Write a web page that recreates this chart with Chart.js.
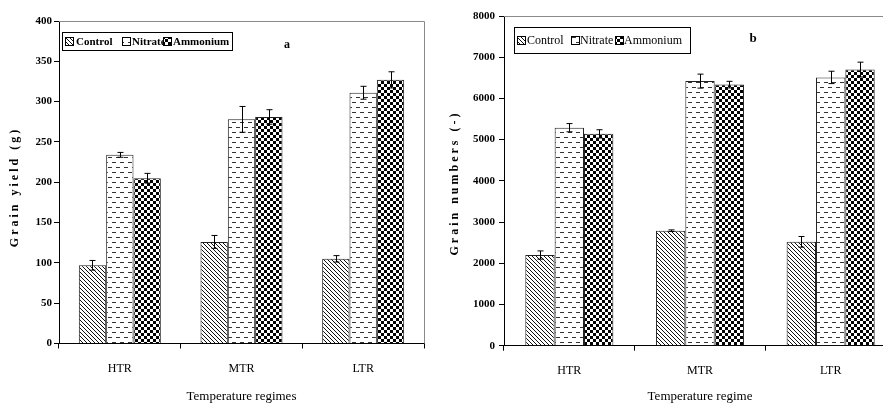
<!DOCTYPE html>
<html><head><meta charset="utf-8">
<script src="https://cdn.jsdelivr.net/npm/chart.js@4"></script>
<style>
html,body{margin:0;padding:0;background:#fff;overflow:hidden}
#wrap{position:relative;width:883px;height:403px;overflow:hidden;background:#fff}
#ca{position:absolute;left:0;top:0}
#cb{position:absolute;left:440px;top:0}
</style></head><body>
<div id="wrap">
<canvas id="ca" width="440" height="403"></canvas>
<canvas id="cb" width="470" height="403"></canvas>
</div>
<script>
// ---- data ----
const categories = ['HTR', 'MTR', 'LTR'];
const seriesNames = ['Control', 'Nitrate', 'Ammonium'];

const yieldControl = [97, 126, 105];
const yieldNitrate = [234, 278, 311];
const yieldAmmonium = [205, 281, 327];
const yieldControlErr = [6, 8, 4];
const yieldNitrateErr = [3, 16, 8];
const yieldAmmoniumErr = [6, 9, 10];
const yieldTickMax = 400, yieldTickStep = 50;

const numControl = [2200, 2790, 2520];
const numNitrate = [5290, 6420, 6510];
const numAmmonium = [5140, 6335, 6700];
const numControlErr = [100, 20, 130];
const numNitrateErr = [100, 170, 150];
const numAmmoniumErr = [100, 80, 180];
const numTickMax = 8000, numTickStep = 1000;

const FONT = "'Liberation Serif', 'Times New Roman', serif";

function makePattern(ctx, type) {
  const c = document.createElement('canvas');
  const x = c.getContext('2d');
  if (type === 'diag') {
    c.width = 4; c.height = 4;
    x.fillStyle = '#fff'; x.fillRect(0, 0, 4, 4);
    x.fillStyle = '#111';
    for (let i = 0; i < 4; i++) x.fillRect(i, i, 1, 1);
  } else if (type === 'dash') {
    c.width = 8; c.height = 10;
    x.fillStyle = '#fff'; x.fillRect(0, 0, 8, 10);
    x.fillStyle = '#333';
    x.fillRect(0, 2, 4, 1);
    x.fillRect(4, 7, 4, 1);
  } else {
    c.width = 6; c.height = 6;
    x.fillStyle = '#fff'; x.fillRect(0, 0, 6, 6);
    x.fillStyle = '#000';
    x.fillRect(0, 0, 3, 3); x.fillRect(3, 3, 3, 3);
  }
  return ctx.createPattern(c, 'repeat');
}

const errorBars = {
  id: 'errorBars',
  afterDatasetsDraw(chart) {
    const ctx = chart.ctx, ys = chart.scales.y;
    ctx.save();
    ctx.strokeStyle = '#000'; ctx.lineWidth = 1;
    chart.data.datasets.forEach((ds, di) => {
      const meta = chart.getDatasetMeta(di);
      meta.data.forEach((bar, i) => {
        const v = ds.data[i], e = ds.errors[i];
        const x = Math.round(bar.x) + 0.5;
        const y1 = ys.getPixelForValue(v + e), y2 = ys.getPixelForValue(v - e);
        ctx.beginPath();
        ctx.moveTo(x, y1); ctx.lineTo(x, y2);
        ctx.moveTo(x - 3, y1); ctx.lineTo(x + 3, y1);
        ctx.moveTo(x - 3, y2); ctx.lineTo(x + 3, y2);
        ctx.stroke();
      });
    });
    ctx.restore();
  }
};

const panel = {
  id: 'panel',
  afterDraw(chart, args, o) {
    const ctx = chart.ctx, a = chart.chartArea;
    ctx.save();
    ctx.strokeStyle = '#8a8a8a'; ctx.lineWidth = 1;
    ctx.beginPath();
    ctx.moveTo(a.left, Math.round(a.top) + 0.5);
    ctx.lineTo(Math.round(a.right) + 0.5, Math.round(a.top) + 0.5);
    ctx.lineTo(Math.round(a.right) + 0.5, a.bottom);
    ctx.stroke();
    const L = o.legend;
    ctx.strokeStyle = '#000';
    ctx.strokeRect(L.x + 0.5, L.y + 0.5, L.w, L.h);
    ctx.font = L.font;
    ctx.textBaseline = 'middle';
    ctx.fillStyle = '#000';
    chart.data.datasets.forEach((ds, i) => {
      const sx = L.swatch[i];
      const sy = L.y + Math.round(L.h / 2) - 4;
      ctx.fillStyle = ds.backgroundColor;
      ctx.fillRect(sx, sy, 8, 8);
      ctx.strokeStyle = '#000';
      ctx.strokeRect(sx + 0.5, sy + 0.5, 8, 8);
      ctx.fillStyle = '#000';
      ctx.fillText(ds.label, L.text[i], L.y + L.h / 2 + 1);
    });
    ctx.font = o.letterFont;
    ctx.textAlign = 'center';
    ctx.fillText(o.letter, o.letterX, o.letterY);
    ctx.translate(o.yTitleX, o.yTitleY);
    ctx.rotate(-Math.PI / 2);
    ctx.font = "bold 12px " + FONT;
    ctx.letterSpacing = '3px';
    ctx.textAlign = 'center';
    ctx.fillText(o.yTitle, 0, 0);
    ctx.restore();
  }
};

function build(canvasId, vals, errs, cfg) {
  const canvas = document.getElementById(canvasId);
  const ctx = canvas.getContext('2d');
  const pats = [makePattern(ctx, 'diag'), makePattern(ctx, 'dash'), makePattern(ctx, 'check')];
  return new Chart(canvas, {
    type: 'bar',
    data: {
      labels: categories,
      datasets: vals.map((v, i) => ({
        label: seriesNames[i],
        data: v,
        errors: errs[i],
        backgroundColor: pats[i],
        borderColor: '#222',
        borderWidth: 1,
        categoryPercentage: 0.674,
        barPercentage: 1
      }))
    },
    options: {
      responsive: false,
      animation: false,
      devicePixelRatio: 1,
      layout: { padding: { left: 0, right: cfg.padRight, top: cfg.padTop, bottom: 0 } },
      plugins: {
        legend: { display: false },
        tooltip: { enabled: false },
        panel: cfg.panel
      },
      scales: {
        x: {
          grid: { display: true, drawOnChartArea: false, drawTicks: true, tickLength: 5, color: '#000', offset: true },
          border: { display: true, color: '#000', width: 1 },
          ticks: { color: '#000', font: { family: FONT, size: 12 }, padding: 13 },
          title: { display: true, text: cfg.xTitle, color: '#000', font: { family: FONT, size: 13, lineHeight: 1 }, padding: 0 },
          afterFit(s) { s.height = cfg.xHeight; s.paddingLeft = 0; s.paddingRight = 0; }
        },
        y: {
          min: 0, max: cfg.max,
          ticks: { stepSize: cfg.step, color: '#000', font: { family: FONT, size: 11, weight: 'bold' }, padding: cfg.tickPad,
                   callback: (v) => String(v) },
          grid: { display: true, drawOnChartArea: false, drawTicks: true, tickLength: 5, color: '#000' },
          border: { display: true, color: '#000', width: 1 },
          afterFit(s) { s.width = cfg.yWidth; s.paddingTop = 0; s.paddingBottom = 0; }
        }
      }
    },
    plugins: [errorBars, panel]
  });
}

build('ca',
  [yieldControl, yieldNitrate, yieldAmmonium],
  [yieldControlErr, yieldNitrateErr, yieldAmmoniumErr],
  {
    max: yieldTickMax, step: yieldTickStep, padRight: 16, padTop: 21, xHeight: 59.5, yWidth: 59, tickPad: 2,
    xTitle: 'Temperature regimes',
    panel: {
      legend: { x: 62, y: 32, w: 170, h: 18, font: "bold 11px " + FONT, swatch: [65, 122, 163], text: [76, 132, 173] },
      letter: 'a', letterX: 287, letterY: 45, letterFont: "bold 12px " + FONT,
      yTitle: 'Grain yield (g)', yTitleX: 15, yTitleY: 187
    }
  });

build('cb',
  [numControl, numNitrate, numAmmonium],
  [numControlErr, numNitrateErr, numAmmoniumErr],
  {
    max: numTickMax, step: numTickStep, padRight: 14, padTop: 16, xHeight: 57.3, yWidth: 64, tickPad: 4,
    xTitle: 'Temperature regime',
    panel: {
      legend: { x: 74, y: 27, w: 176, h: 26, font: "12px " + FONT, swatch: [77, 131, 175], text: [87, 140, 184] },
      letter: 'b', letterX: 313, letterY: 39, letterFont: "bold 13px " + FONT,
      yTitle: 'Grain numbers (-)', yTitleX: 15, yTitleY: 183
    }
  });
</script>
</body></html>
